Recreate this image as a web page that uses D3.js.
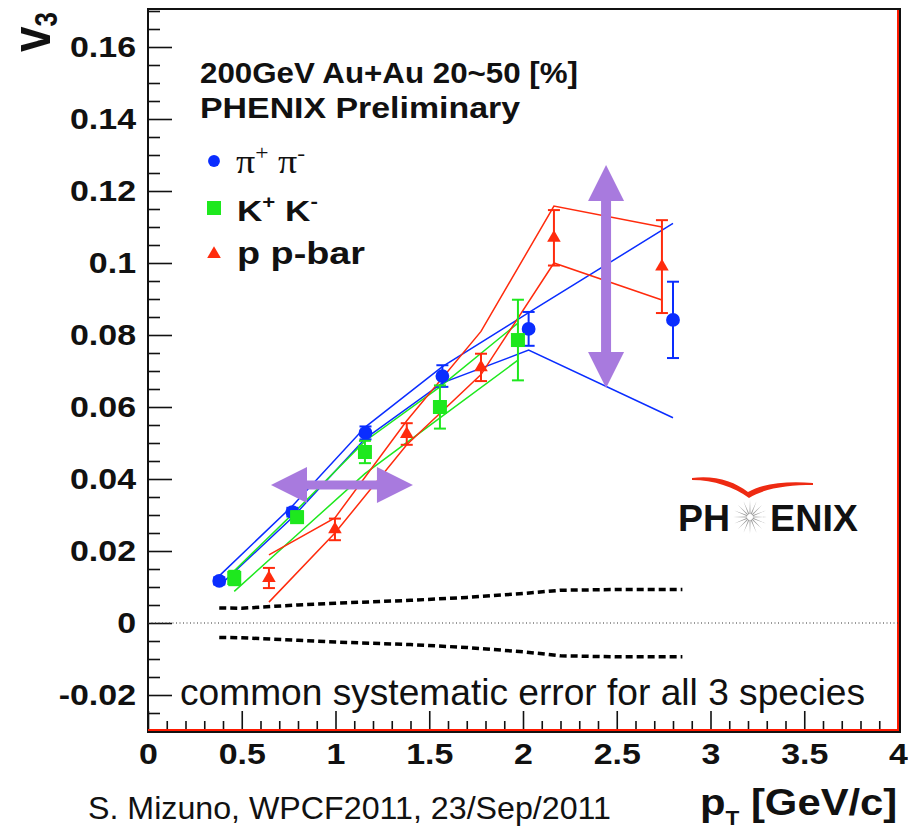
<!DOCTYPE html>
<html>
<head>
<meta charset="utf-8">
<script src="https://cdn.jsdelivr.net/npm/d3@7"></script>
<style>
  body { margin: 0; background: #fff; }
  svg { display: block; }
</style>
</head>
<body>
<svg id="chart" width="908" height="835"></svg>
<script>
// ---- v3(pT) for identified hadrons, 200 GeV Au+Au, 20-50% ----
const pionPt    = [0.38, 0.77, 1.16, 1.57, 2.03, 2.80];
const pionV3    = [0.0117, 0.0308, 0.0528, 0.0686, 0.0817, 0.0842];
const pionErr   = [0.0010, 0.0012, 0.0018, 0.0030, 0.0047, 0.0106];
const pionSysHi = [0.0131, 0.0325, 0.0545, 0.0712, 0.0862, 0.1110];
const pionSysLo = [0.0103, 0.0293, 0.0513, 0.0667, 0.0758, 0.0570];

const kaonPt    = [0.46, 0.795, 1.157, 1.557, 1.973];
const kaonV3    = [0.0125, 0.0294, 0.0475, 0.0600, 0.0786];
const kaonErr   = [0.0020, 0.0016, 0.0031, 0.0060, 0.0112];
const kaonSysHi = [0.0145, 0.0315, 0.0505, 0.0656, 0.0833];
const kaonSysLo = [0.0088, 0.0245, 0.0415, 0.0570, 0.0730];

const protonPt    = [0.645, 0.997, 1.38, 1.776, 2.165, 2.741];
const protonV3    = [0.0125, 0.0260, 0.0525, 0.0710, 0.1070, 0.0990];
const protonErr   = [0.0028, 0.0030, 0.0030, 0.0038, 0.0077, 0.0129];
const protonSysHi = [0.0189, 0.0292, 0.0562, 0.0810, 0.1158, 0.1100];
const protonSysLo = [0.0058, 0.0250, 0.0495, 0.0690, 0.1000, 0.0897];

// common systematic error band (all species)
const commonPt = [0.38, 0.50, 0.80, 1.00, 1.40, 1.70, 2.00, 2.20, 2.50, 2.85];
const commonHi = [0.0042, 0.0041, 0.0050, 0.0055, 0.0063, 0.0071, 0.0082, 0.0091, 0.0093, 0.0093];
const commonLo = [-0.0040, -0.0041, -0.0048, -0.0053, -0.0060, -0.0068, -0.0080, -0.0091, -0.0094, -0.0094];

// axis ticks
const yMajorTicks = [-0.02, 0, 0.02, 0.04, 0.06, 0.08, 0.1, 0.12, 0.14, 0.16];
const xMajorTicks = [0, 0.5, 1, 1.5, 2, 2.5, 3, 3.5, 4];

// highlight arrows: [pT1, v3_1, pT2, v3_2]
const arrowH = [0.656, 0.0383, 1.413, 0.0383];
const arrowV = [2.443, 0.1272, 2.443, 0.0653];

const BLUE = "#0a2dff", GREEN = "#1ee81e", RED = "#ff2b0d", PURPLE = "#a87ade";
const SANS = "'Liberation Sans', Arial, Helvetica, sans-serif";
const SERIF = "'Liberation Serif', 'Times New Roman', serif";

const svg = d3.select("#chart");
const x = d3.scaleLinear().domain([0, 4]).range([148, 898]);
const y = d3.scaleLinear().domain([-0.03, 0.17]).range([731, 11]);
const SX = 1.17; // horizontal stretch of the bold labels

// ---- axes (ticks inside the frame) ----
const yMinor = d3.range(-0.03, 0.1701, 0.005).map(v => +v.toFixed(3))
  .filter(v => !yMajorTicks.some(t => Math.abs(t - v) < 1e-6));
const xMinor = d3.range(0, 4.001, 0.1).map(v => +v.toFixed(2))
  .filter(v => !xMajorTicks.some(t => Math.abs(t - v) < 1e-6));

const yAxisMinor = svg.append("g").attr("transform", `translate(${x(0)},0)`)
  .call(d3.axisLeft(y).tickValues(yMinor).tickSizeInner(-12).tickSizeOuter(0).tickFormat(""));
const yAxis = svg.append("g").attr("transform", `translate(${x(0)},0)`)
  .call(d3.axisLeft(y).tickValues(yMajorTicks).tickSizeInner(-24).tickSizeOuter(0).tickPadding(12)
    .tickFormat(d => String(+d.toFixed(2))));
const xAxisMinor = svg.append("g").attr("transform", `translate(0,${y(-0.03)})`)
  .call(d3.axisBottom(x).tickValues(xMinor).tickSizeInner(-10).tickSizeOuter(0).tickFormat(""));
const xAxis = svg.append("g").attr("transform", `translate(0,${y(-0.03)})`)
  .call(d3.axisBottom(x).tickValues(xMajorTicks).tickSizeInner(-20).tickSizeOuter(0).tickPadding(12)
    .tickFormat(d => String(d)));

[yAxisMinor, yAxis, xAxisMinor, xAxis].forEach(g => {
  g.select(".domain").remove();
  g.selectAll(".tick line").attr("stroke", "#111").attr("stroke-width", 1.6);
});
yAxis.selectAll("text")
  .attr("font-family", SANS).attr("font-weight", "bold").attr("font-size", 29).attr("fill", "#111")
  .attr("x", -12 / SX).attr("transform", `scale(${SX},1)`);
xAxis.selectAll("text")
  .attr("font-family", SANS).attr("font-weight", "bold").attr("font-size", 29).attr("fill", "#111")
  .attr("transform", `scale(${SX},1)`);

// ---- frame ----
svg.append("rect")
  .attr("x", x(0)).attr("y", y(0.17) - 2)
  .attr("width", x(4) - x(0) + 2).attr("height", y(-0.03) - y(0.17) + 3)
  .attr("fill", "none").attr("stroke", "#111").attr("stroke-width", 2);
svg.append("line").attr("x1", x(4)).attr("x2", x(4)).attr("y1", y(0.17) - 1).attr("y2", y(-0.03))
  .attr("stroke", "#ff1a00").attr("stroke-width", 2);
svg.append("line").attr("x1", x(0)).attr("x2", x(4)).attr("y1", y(-0.03) - 1).attr("y2", y(-0.03) - 1)
  .attr("stroke", "#ff1a00").attr("stroke-width", 2);

// zero line
svg.append("line").attr("x1", x(0)).attr("x2", x(4)).attr("y1", y(0)).attr("y2", y(0))
  .attr("stroke", "#333").attr("stroke-width", 1).attr("stroke-dasharray", "1,2.5");

// ---- common systematic band ----
const line = d3.line().x(d => x(d[0])).y(d => y(d[1]));
[commonHi, commonLo].forEach(vals => {
  svg.append("path")
    .attr("d", line(commonPt.map((p, i) => [p, vals[i]])))
    .attr("fill", "none").attr("stroke", "#000").attr("stroke-width", 3.5)
    .attr("stroke-dasharray", "7,4");
});

// ---- per-species systematic bands ----
const species = [
  { pt: pionPt, v: pionV3, e: pionErr, hi: pionSysHi, lo: pionSysLo, color: BLUE, sym: d3.symbolCircle, size: 150 },
  { pt: kaonPt, v: kaonV3, e: kaonErr, hi: kaonSysHi, lo: kaonSysLo, color: GREEN, sym: d3.symbolSquare, size: 196 },
  { pt: protonPt, v: protonV3, e: protonErr, hi: protonSysHi, lo: protonSysLo, color: RED, sym: d3.symbolTriangle, size: 80 }
];
species.forEach(s => {
  [s.hi, s.lo].forEach(vals => {
    svg.append("path")
      .attr("d", line(s.pt.map((p, i) => [p, vals[i]])))
      .attr("fill", "none").attr("stroke", s.color).attr("stroke-width", 1.5);
  });
});

// ---- statistical error bars and markers ----
species.forEach(s => {
  const g = svg.append("g").attr("stroke", s.color).attr("stroke-width", 2);
  s.pt.forEach((p, i) => {
    const cx = x(p), top = y(s.v[i] + s.e[i]), bot = y(s.v[i] - s.e[i]);
    g.append("line").attr("x1", cx).attr("x2", cx).attr("y1", top).attr("y2", bot);
    g.append("line").attr("x1", cx - 6).attr("x2", cx + 6).attr("y1", top).attr("y2", top);
    g.append("line").attr("x1", cx - 6).attr("x2", cx + 6).attr("y1", bot).attr("y2", bot);
  });
  svg.append("g").selectAll("path").data(s.pt.map((p, i) => [p, s.v[i]])).join("path")
    .attr("transform", d => `translate(${x(d[0])},${y(d[1])})`)
    .attr("d", d3.symbol().type(s.sym).size(s.size))
    .attr("fill", s.color);
});

// ---- double arrows ----
function doubleArrow(a, shaft, headL, headW) {
  const x1 = x(a[0]), y1 = y(a[1]), x2 = x(a[2]), y2 = y(a[3]);
  const len = Math.hypot(x2 - x1, y2 - y1);
  const ang = Math.atan2(y2 - y1, x2 - x1) * 180 / Math.PI;
  const s = shaft / 2, h = headW / 2;
  const pts = [[0, 0], [headL, -h], [headL, -s], [len - headL, -s], [len - headL, -h], [len, 0],
               [len - headL, h], [len - headL, s], [headL, s], [headL, h]];
  svg.append("path")
    .attr("d", "M" + pts.map(p => p.join(",")).join("L") + "Z")
    .attr("transform", `translate(${x1},${y1}) rotate(${ang})`)
    .attr("fill", PURPLE);
}
doubleArrow(arrowH, 9, 36, 36);
doubleArrow(arrowV, 10, 36, 36);

// ---- texts ----
function fitText(str, x0, x1, base, size, opts = {}) {
  return svg.append("text")
    .attr("x", x0).attr("y", base)
    .attr("font-family", opts.family || SANS)
    .attr("font-weight", opts.weight || "normal")
    .attr("font-size", size).attr("fill", opts.fill || "#111")
    .attr("textLength", x1 - x0).attr("lengthAdjust", "spacingAndGlyphs")
    .text(str);
}
fitText("200GeV Au+Au 20~50 [%]", 200, 578, 83, 29, { weight: "bold" });
fitText("PHENIX Preliminary", 200, 520, 118, 29, { weight: "bold" });

// legend
const legend = [
  { sym: d3.symbolCircle, size: 110, color: BLUE, cy: 161 },
  { sym: d3.symbolSquare, size: 196, color: GREEN, cy: 208 },
  { sym: d3.symbolTriangle, size: 80, color: RED, cy: 254 }
];
legend.forEach(l => {
  svg.append("path").attr("transform", `translate(214,${l.cy})`)
    .attr("d", d3.symbol().type(l.sym).size(l.size)).attr("fill", l.color);
});
const pi = svg.append("text").attr("x", 0).attr("y", 0)
  .attr("transform", `translate(236,173) scale(1.12,1)`)
  .attr("font-family", SERIF).attr("font-size", 34).attr("fill", "#111");
pi.append("tspan").text("π");
pi.append("tspan").attr("font-size", 21).attr("dy", -13).text("+");
pi.append("tspan").attr("font-size", 34).attr("dy", 13).text(" π");
pi.append("tspan").attr("font-size", 21).attr("dy", -13).text("-");

const k = svg.append("text").attr("x", 0).attr("y", 0)
  .attr("transform", `translate(237,221) scale(${SX},1)`)
  .attr("font-family", SANS).attr("font-weight", "bold").attr("font-size", 30).attr("fill", "#111");
k.append("tspan").text("K");
k.append("tspan").attr("font-size", 19).attr("dy", -13).text("+");
k.append("tspan").attr("font-size", 30).attr("dy", 13).text(" K");
k.append("tspan").attr("font-size", 19).attr("dy", -13).text("-");
fitText("p p-bar", 237, 365, 264, 31, { weight: "bold" });

fitText("common systematic error for all 3 species", 180, 865, 705, 36);
fitText("S. Mizuno, WPCF2011, 23/Sep/2011", 88, 611, 819, 32);

// axis titles
const xt = svg.append("text").attr("x", 0).attr("y", 0)
  .attr("transform", `translate(700,815) scale(1.13,1)`)
  .attr("font-family", SANS).attr("font-weight", "bold").attr("font-size", 37).attr("fill", "#111");
xt.append("tspan").text("p");
xt.append("tspan").attr("font-size", 20).attr("dy", 10).text("T");
xt.append("tspan").attr("font-size", 37).attr("dy", -10).text(" [GeV/c]");

const yt = svg.append("text").attr("x", 0).attr("y", 0)
  .attr("transform", `translate(50,52) rotate(-90) scale(1,1.2)`)
  .attr("font-family", SANS).attr("font-weight", "bold").attr("font-size", 46).attr("fill", "#111");
yt.append("tspan").text("v");
yt.append("tspan").attr("font-size", 26).attr("dy", 6).text("3");

// ---- experiment logo ----
const logo = svg.append("g").attr("transform", "translate(668,490)");
logo.append("path")
  .attr("d", "M24,-12 C46,-15 66,-9 80,2 C95,-7 120,-9 145,-7 L145,-5 C120,-5 97,-2 81,8 C66,-3 46,-10 24,-10 Z")
  .attr("fill", "#ee2a12");
logo.append("text").attr("x", 10).attr("y", 41).attr("textLength", 52).attr("lengthAdjust", "spacingAndGlyphs")
  .attr("font-family", SANS).attr("font-weight", "bold").attr("font-size", 37).attr("fill", "#111").text("PH");
logo.append("text").attr("x", 102).attr("y", 41).attr("textLength", 88).attr("lengthAdjust", "spacingAndGlyphs")
  .attr("font-family", SANS).attr("font-weight", "bold").attr("font-size", 37).attr("fill", "#111").text("ENIX");
const star = logo.append("g").attr("transform", "translate(82,27)");
d3.range(16).forEach(i => {
  const a = i * Math.PI / 8, r0 = 3, r1 = 17, w = 0.09;
  const p = [[r0 * Math.cos(a - w * 2), r0 * Math.sin(a - w * 2)],
             [r1 * Math.cos(a), r1 * Math.sin(a)],
             [r0 * Math.cos(a + w * 2), r0 * Math.sin(a + w * 2)]];
  star.append("path").attr("d", "M" + p.map(q => q.join(",")).join("L") + "Z")
    .attr("fill", "#9a9a9a");
});
</script>
</body>
</html>
